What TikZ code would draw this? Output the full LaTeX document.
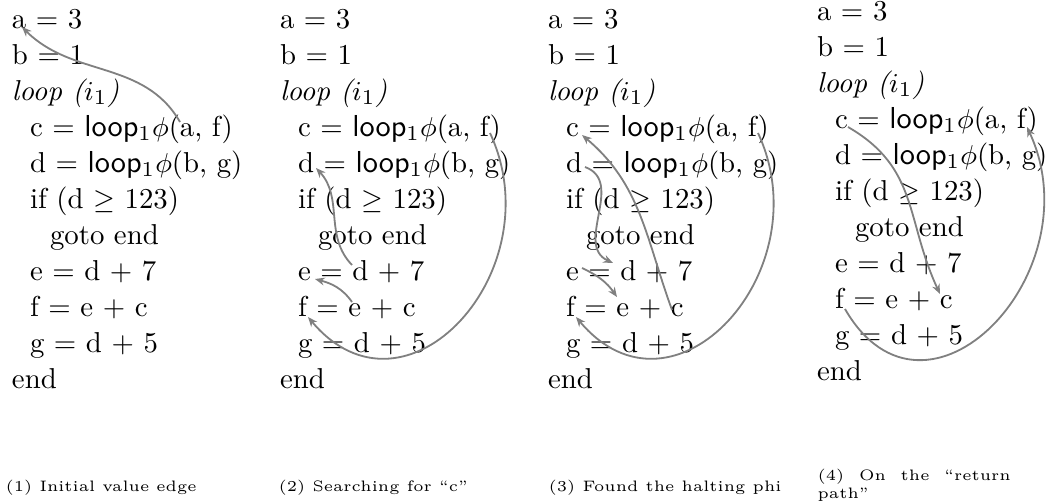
\documentclass[tikz,border=0pt]{standalone}
\usetikzlibrary{arrows.meta,calc}
\newcommand\lp{\textsf{\fontsize{10}{12}\selectfont loop}}
\newcommand\drawprogram[3]{%
  \node[code] (#1a) at (#2,#3) {a = 3};
  \node[code] (#1b) at (#2,#3+36) {b = 1};
  \node[code] (#1l) at (#2,#3+72) {\textit{loop ($i_1$)}};
  \node[code] (#1c) at (#2+18,#3+108) {c = \lp$_1\phi$(a, f)};
  \node[code] (#1d) at (#2+18,#3+144) {d = \lp$_1\phi$(b, g)};
  \node[code] (#1i) at (#2+18,#3+180) {if (d $\geq$ 123)};
  \node[code] (#1g) at (#2+38,#3+216) {goto end};
  \node[code] (#1e) at (#2+18,#3+252) {e = d + 7};
  \node[code] (#1f) at (#2+18,#3+288) {f = e + c};
  \node[code] (#1h) at (#2+18,#3+324) {g = d + 5};
  \node[code] (#1n) at (#2,#3+360) {end};
}
\begin{document}
\begin{tikzpicture}[x=0.32982pt,y=-0.32982pt,
  code/.style={anchor=base west, inner sep=0pt, outer sep=0pt, font=\fontsize{9.5}{11}\selectfont},
  flow/.style={draw=black!50, line width=0.6pt, -{Stealth[length=3.2pt,width=2.6pt]}},
  captext/.style={anchor=base west, inner sep=0pt, font=\fontsize{5}{4.4}\selectfont}]
\useasboundingbox (0,0) rectangle (1046,503);

% programs
\drawprogram{p1}{12}{28}
\drawprogram{p2}{280}{28}
\drawprogram{p3}{548}{28}
\drawprogram{p4}{817}{20}

% column 1
\coordinate (s1) at ($(p1c.base west)+(150,-14)$);
\coordinate (t1) at ($(p1a.base west)+(10,-1)$);
\draw[flow] (s1) to[out=120,in=-45] (t1);

% column 2
\coordinate (s2a) at ($(p2c.base west)+(192,-3)$);
\coordinate (t2a) at ($(p2f.base west)+(10,1)$);
\draw[flow] (s2a) to[out=-65,in=-50,looseness=1.5] (t2a);
\coordinate (s2b) at ($(p2e.base west)+(54,-15)$);
\coordinate (t2b) at ($(p2d.base west)+(18,-4)$);
\draw[flow] (s2b) to[out=134,in=-47] (t2b);
\coordinate (s2c) at ($(p2f.base west)+(54,-14)$);
\coordinate (t2c) at ($(p2e.base west)+(17,-1)$);
\draw[flow] (s2c) to[out=125,in=-15] (t2c);

% column 3
\coordinate (s3a) at ($(p3c.base west)+(192,-3)$);
\coordinate (t3a) at ($(p3f.base west)+(10,1)$);
\draw[flow] (s3a) to[out=-65,in=-50,looseness=1.5] (t3a);
\coordinate (s3b) at ($(p3f.base west)+(106,-6)$);
\coordinate (t3b) at ($(p3c.base west)+(16,-1)$);
\draw[flow] (s3b) to[out=110,in=-40] (t3b);
\coordinate (s3c) at ($(p3d.base west)+(19,-5)$);
\coordinate (t3c) at ($(p3e.base west)+(47,-17)$);
\draw[flow] (s3c) to[out=-20,in=155,looseness=1.1] (t3c);
\coordinate (s3d) at ($(p3e.base west)+(16,-12)$);
\coordinate (t3d) at ($(p3f.base west)+(51,-19)$);
\draw[flow] (s3d) to[out=-25,in=125] (t3d);

% column 4
\coordinate (s4a) at ($(p4c.base west)+(13,-1)$);
\coordinate (t4a) at ($(p4f.base west)+(105,-14)$);
\draw[flow] (s4a) to[out=-30,in=115,looseness=1.1] (t4a);
\coordinate (s4b) at ($(p4f.base west)+(10,1)$);
\coordinate (t4b) at ($(p4c.base west)+(192,-1)$);
\draw[flow] (s4b) to[out=-60,in=-65,looseness=1.6] (t4b);

% captions
\node[captext] (cap1) at (5,491) {(1) Initial value edge};
\node[captext] (cap2) at (278,491) {(2) Searching for ``c''};
\node[captext] (cap3) at (548,491) {(3) Found the halting phi};
\node[captext, anchor=north west, text width=63.7pt, align=justify] (cap4) at (817,469) {(4) On the ``return path''};
\end{tikzpicture}
\end{document}
